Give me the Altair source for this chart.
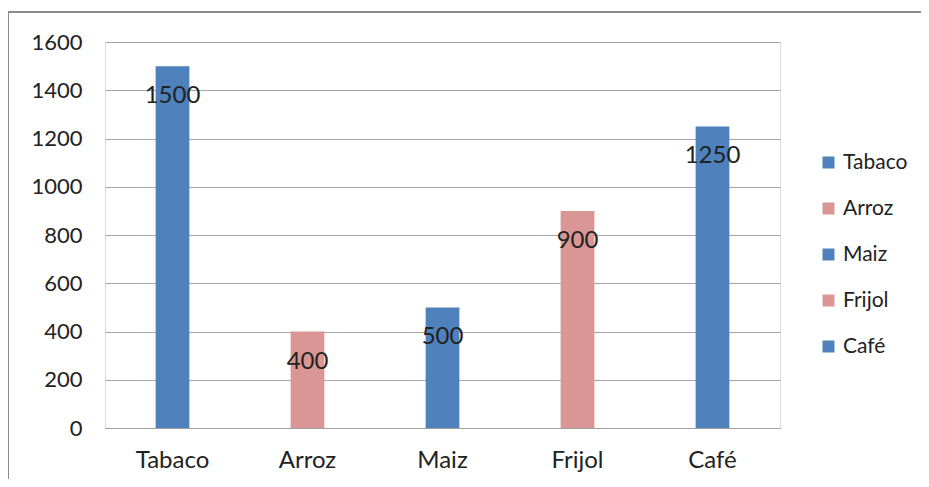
import altair as alt
import pandas as pd

categories = ["Tabaco", "Arroz", "Maiz", "Frijol", "Café"]
values = [1500, 400, 500, 900, 1250]
colors = ["#4F81BD", "#D99694", "#4F81BD", "#D99694", "#4F81BD"]
y_ticks = [0, 200, 400, 600, 800, 1000, 1200, 1400, 1600]

df = pd.DataFrame({"cat": categories, "val": values})
FONT = "Lato"

x_enc = alt.X("cat:N", sort=categories, title=None,
              scale=alt.Scale(paddingInner=0.75, paddingOuter=0.375),
              axis=alt.Axis(labelAngle=0, labelFontSize=24, labelColor="#222222",
                            labelPadding=20, ticks=False, domainColor="#a0a0a0",
                            labelFont=FONT))
y_enc = alt.Y("val:Q", title=None,
              scale=alt.Scale(domain=[0, 1600], nice=False),
              axis=alt.Axis(values=y_ticks, format="d", labelFontSize=22,
                            labelColor="#222222", labelPadding=23, ticks=False,
                            domain=False, gridColor="#a6a6a6", gridWidth=1,
                            labelFont=FONT))

bars = alt.Chart(df).mark_bar().encode(
    x=x_enc, y=y_enc,
    color=alt.Color("cat:N", sort=categories,
                    scale=alt.Scale(domain=categories, range=colors),
                    legend=alt.Legend(title=None, orient="none", legendX=713, legendY=110,
                                      symbolType="square", symbolSize=144,
                                      symbolStrokeWidth=0, labelFontSize=21,
                                      labelColor="#222222", rowPadding=24,
                                      labelFont=FONT, labelOffset=4)),
)

labels = alt.Chart(df).mark_text(baseline="middle", dy=30, fontSize=24,
                                 color="#222222", font=FONT).encode(
    x=alt.X("cat:N", sort=categories), y="val:Q", text="val:Q")

top_line = alt.Chart(pd.DataFrame({"k": ["top"]})).mark_rule(
    color="#8c8c8c", strokeWidth=2).encode(
    x=alt.value(-97), x2=alt.value(850), y=alt.value(-30))
left_line = alt.Chart(pd.DataFrame({"k": ["left"]})).mark_rule(
    color="#8c8c8c", strokeWidth=2).encode(
    x=alt.value(-97), y=alt.value(-30), y2=alt.value(480))

chart = alt.layer(bars, labels, top_line, left_line).properties(
    width=675, height=386,
    autosize=alt.AutoSizeParams(type="none"),
    padding={"left": 97, "top": 34, "right": 141, "bottom": 51},
).configure_view(stroke="#a0a0a0", strokeWidth=1).configure(background="white")

chart.save("out.html", embed_options={"renderer": "svg", "actions": False})
